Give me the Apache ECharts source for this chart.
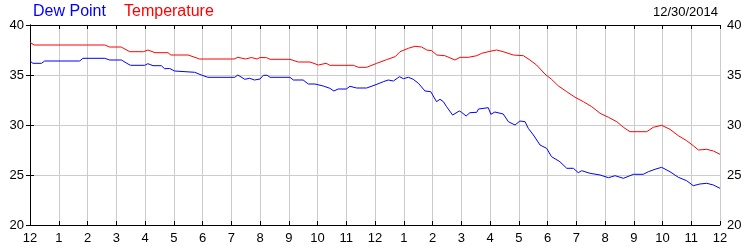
<!doctype html>
<html>
    <head>
        <meta charset="utf-8">
        <title>Dew Point / Temperature</title>
        <style>
            html, body { margin: 0; padding: 0; background: #fff; }
            #main { width: 750px; height: 250px; }
        </style>
    </head>
    <body>
        <div id="main"></div>
        <script src="https://cdn.jsdelivr.net/npm/echarts@6/dist/echarts.min.js"></script>
        <script>
            // hours since midnight
            var tempHours = [0, 0.15, 2.6, 2.77, 3.17, 3.47, 3.95, 4.1, 4.35, 4.8, 4.9, 5.5, 5.9, 7.1, 7.23, 7.5, 7.7, 7.9, 8.0,
                8.23, 8.35, 9.04, 9.33, 9.74, 10.03, 10.3, 10.43, 11.25, 11.42, 11.71, 12.06, 12.4, 12.7, 12.87, 13.16,
                13.39, 13.62, 13.8, 13.97, 14.15, 14.43, 14.78, 14.96, 15.25, 15.54, 15.71, 16.0, 16.23, 16.46, 16.81,
                17.16, 17.39, 17.62, 17.91, 18.14, 18.38, 18.67, 18.96, 19.25, 19.54, 19.83, 20.12, 20.41, 20.64,
                20.87, 21.45, 21.68, 21.97, 22.26, 22.55, 22.84, 23.07, 23.25, 23.54, 23.77, 24.0];
            var tempValues = [38.25, 38.0, 38.0, 37.8, 37.8, 37.33, 37.33, 37.5, 37.23, 37.23, 37.0, 37.0, 36.6, 36.6, 36.77, 36.6, 36.75, 36.6, 36.75,
                36.73, 36.57, 36.57, 36.3, 36.3, 36.0, 36.17, 35.97, 35.97, 35.77, 35.77, 36.17, 36.53, 36.83, 37.33, 37.67,
                37.87, 37.8, 37.5, 37.43, 37.0, 36.93, 36.5, 36.77, 36.77, 36.93, 37.17, 37.37, 37.5, 37.33, 37.0,
                36.93, 36.5, 36.0, 35.1, 34.57, 33.9, 33.33, 32.77, 32.33, 31.83, 31.17, 30.77, 30.33, 29.77,
                29.33, 29.33, 29.77, 29.97, 29.57, 28.93, 28.43, 27.93, 27.5, 27.57, 27.4, 27.07];

            var dewHours = [0, 0.1, 0.4, 0.51, 1.73, 1.84, 2.6, 2.77, 3.18, 3.41, 3.5, 3.99, 4.1, 4.28, 4.57, 4.68, 4.86, 5.03,
                5.73, 5.96, 6.19, 7.12, 7.23, 7.47, 7.64, 7.81, 8.0, 8.12, 8.25, 8.35, 9.04, 9.16, 9.5, 9.68, 9.91, 10.2,
                10.43, 10.57, 10.72, 11.0, 11.13, 11.36, 11.71, 12.0, 12.29, 12.46, 12.64, 12.85, 12.99, 13.16, 13.33,
                13.51, 13.74, 13.94, 14.14, 14.26, 14.38, 14.49, 14.7, 14.93, 15.01, 15.17, 15.3, 15.54, 15.6, 15.94,
                16.03, 16.17, 16.46, 16.64, 16.87, 17.04, 17.22, 17.33, 17.51, 17.74, 17.97, 18.14, 18.43, 18.67, 18.9,
                19.07, 19.19, 19.48, 19.83, 20.12, 20.35, 20.64, 20.99, 21.33, 21.51, 21.74, 21.97, 22.26, 22.55, 22.84,
                23.07, 23.3, 23.54, 23.77, 24.0];
            var dewValues = [36.4, 36.17, 36.17, 36.4, 36.4, 36.67, 36.67, 36.5, 36.5, 36.1, 35.97, 35.97, 36.13, 35.93, 35.93, 35.63, 35.65, 35.4,
                35.27, 35.0, 34.77, 34.77, 35.0, 34.57, 34.67, 34.5, 34.6, 34.97, 34.97, 34.77, 34.77, 34.5, 34.5, 34.1, 34.1, 33.9,
                33.67, 33.4, 33.6, 33.6, 33.87, 33.7, 33.7, 34.0, 34.33, 34.5, 34.4, 34.83, 34.63, 34.77, 34.57,
                34.17, 33.4, 33.33, 32.33, 32.57, 32.33, 31.83, 31.0, 31.4, 31.27, 30.9, 31.23, 31.27, 31.6, 31.73,
                31.07, 31.3, 31.1, 30.33, 30.0, 30.4, 30.33, 29.67, 29.0, 28.0, 27.67, 26.83, 26.33, 25.67, 25.67,
                25.23, 25.43, 25.17, 25.0, 24.73, 24.93, 24.67, 25.07, 25.07, 25.33, 25.57, 25.77, 25.33, 24.77, 24.43,
                23.93, 24.1, 24.17, 24.0, 23.67];

            var dateLabel = '12/30/2014';
            var hourLabels = ['12', '1', '2', '3', '4', '5', '6', '7', '8', '9', '10', '11',
                '12', '1', '2', '3', '4', '5', '6', '7', '8', '9', '10', '11', '12'];

            function zip(xs, ys) {
                return xs.map(function (x, i) { return [x, ys[i]]; });
            }

            var font = 'Arial, "Liberation Sans", sans-serif';
            var gridLine = { show: true, lineStyle: { color: '#cccccc', width: 1 } };

            var yAxisCommon = {
                type: 'value',
                min: 20,
                max: 40,
                interval: 5,
                axisLine: { show: true, lineStyle: { color: '#000', width: 1 } },
                axisTick: { show: true, inside: true, length: 4, lineStyle: { color: '#000' } },
                splitLine: gridLine,
                axisLabel: { color: '#000', fontSize: 13, fontFamily: font }
            };

            var chart = echarts.init(document.getElementById('main'));

            chart.setOption({
                animation: false,
                title: [{
                    text: 'Dew Point',
                    left: 33,
                    top: 4,
                    padding: 0,
                    textStyle: { color: '#0000ff', fontSize: 16, fontWeight: 'normal', fontFamily: font }
                }, {
                    text: 'Temperature',
                    left: 124,
                    top: 4,
                    padding: 0,
                    textStyle: { color: '#ff0000', fontSize: 16, fontWeight: 'normal', fontFamily: font }
                }, {
                    text: dateLabel,
                    right: 32,
                    top: 6,
                    padding: 0,
                    textStyle: { color: '#000', fontSize: 13, fontWeight: 'normal', fontFamily: font }
                }],
                grid: { left: 30, right: 30, top: 25, bottom: 25 },
                xAxis: [{
                    type: 'value',
                    min: 0,
                    max: 24,
                    interval: 1,
                    axisLine: { show: true, lineStyle: { color: '#000', width: 1 } },
                    axisTick: { show: true, inside: true, length: 4, lineStyle: { color: '#000' } },
                    splitLine: gridLine,
                    axisLabel: {
                        color: '#000',
                        fontSize: 13,
                        fontFamily: font,
                        margin: 7,
                        formatter: function (v) { return hourLabels[Math.round(v)]; }
                    }
                }, {
                    type: 'value',
                    position: 'top',
                    min: 0,
                    max: 24,
                    interval: 1,
                    axisLine: { show: true, lineStyle: { color: '#000', width: 1 } },
                    axisTick: { show: true, inside: true, length: 4, lineStyle: { color: '#000' } },
                    splitLine: { show: false },
                    axisLabel: { show: false }
                }],
                yAxis: [
                    Object.assign({}, yAxisCommon, { position: 'left', axisLabel: Object.assign({}, yAxisCommon.axisLabel, { margin: 6 }) }),
                    Object.assign({}, yAxisCommon, { position: 'right', splitLine: { show: false }, axisLabel: Object.assign({}, yAxisCommon.axisLabel, { margin: 7 }) })
                ],
                series: [{
                    name: 'Dew Point',
                    type: 'line',
                    data: zip(dewHours, dewValues),
                    showSymbol: false,
                    lineStyle: { color: '#0000ff', width: 1 },
                    itemStyle: { color: '#0000ff' }
                }, {
                    name: 'Temperature',
                    type: 'line',
                    data: zip(tempHours, tempValues),
                    showSymbol: false,
                    lineStyle: { color: '#ff0000', width: 1 },
                    itemStyle: { color: '#ff0000' }
                }]
            });
        </script>
    </body>
</html>
